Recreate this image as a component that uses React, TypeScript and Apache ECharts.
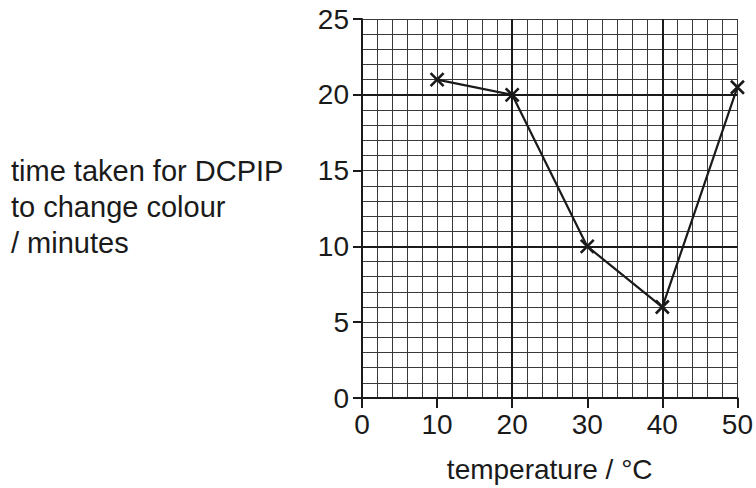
import React, { useEffect, useRef } from "react";
import * as echarts from "echarts";

const temperatures = [10, 20, 30, 40, 50];
const times = [21, 20, 10, 6, 20.5];
const xTicks = [0, 10, 20, 30, 40, 50];
const yTicks = [0, 5, 10, 15, 20, 25];
const majorX = [20, 40];
const majorY = [10, 20];
const yTitleLines = ["time taken for DCPIP", "to change colour", "/ minutes"];
const xTitle = "temperature / °C";

const FONT = "'Liberation Sans', Arial, Helvetica, sans-serif";
const INK = "#1a1a1a";
const GRID = "#3a3a3a";

export default function App() {
  const ref = useRef<HTMLDivElement>(null);
  useEffect(() => {
    if (!ref.current) return;
    const chart = echarts.init(ref.current, undefined, { renderer: "svg" });
    const xMin = xTicks[0];
    const xMax = xTicks[xTicks.length - 1];
    const yMin = yTicks[0];
    const yMax = yTicks[yTicks.length - 1];
    chart.setOption({
      animation: false,
      backgroundColor: "#ffffff",
      grid: { left: 362, top: 19, width: 379, height: 379, containLabel: false },
      graphic: [
        {
          type: "text",
          left: 11,
          top: 153,
          style: {
            text: yTitleLines.join("\n"),
            fontFamily: FONT,
            fontSize: 29,
            lineHeight: 36,
            fill: INK,
            align: "left",
            verticalAlign: "top",
          },
        },
      ],
      xAxis: {
        type: "value",
        min: xMin,
        max: xMax,
        interval: xTicks[1] - xTicks[0],
        name: xTitle,
        nameLocation: "middle",
        nameGap: 57,
        nameTextStyle: { fontFamily: FONT, fontSize: 28, color: INK },
        axisLine: { show: true, onZero: false, lineStyle: { color: INK, width: 2 } },
        axisTick: { show: true, length: 10, lineStyle: { color: INK, width: 2 } },
        axisLabel: { fontFamily: FONT, fontSize: 28, color: INK, margin: 12 },
        splitLine: { show: true, lineStyle: { color: GRID, width: 1 } },
        minorTick: { show: false, splitNumber: 5 },
        minorSplitLine: { show: true, lineStyle: { color: GRID, width: 1 } },
      },
      yAxis: {
        type: "value",
        min: yMin,
        max: yMax,
        interval: yTicks[1] - yTicks[0],
        axisLine: { show: true, onZero: false, lineStyle: { color: INK, width: 2 } },
        axisTick: { show: true, length: 9, lineStyle: { color: INK, width: 2 } },
        axisLabel: { fontFamily: FONT, fontSize: 28, color: INK, margin: 13 },
        splitLine: { show: true, lineStyle: { color: GRID, width: 1 } },
        minorTick: { show: false, splitNumber: 5 },
        minorSplitLine: { show: true, lineStyle: { color: GRID, width: 1 } },
      },
      series: [
        {
          type: "line",
          data: temperatures.map((t, i) => [t, times[i]]),
          symbol: "path://M0,0L10,10M10,0L0,10",
          symbolSize: 13,
          showAllSymbol: true,
          lineStyle: { color: INK, width: 2.2 },
          itemStyle: { color: INK, borderColor: INK, borderWidth: 2.6 },
          z: 5,
          markLine: {
            silent: true,
            symbol: ["none", "none"],
            label: { show: false },
            lineStyle: { color: INK, width: 2, type: "solid" },
            data: [
              ...majorX.map((v) => ({ xAxis: v })),
              ...majorY.map((v) => ({ yAxis: v })),
            ],
          },
        },
      ],
    });
    return () => chart.dispose();
  }, []);
  return (
    <div
      ref={ref}
      style={{ position: "fixed", left: 0, top: 0, width: 756, height: 488, background: "#fff" }}
    />
  );
}
